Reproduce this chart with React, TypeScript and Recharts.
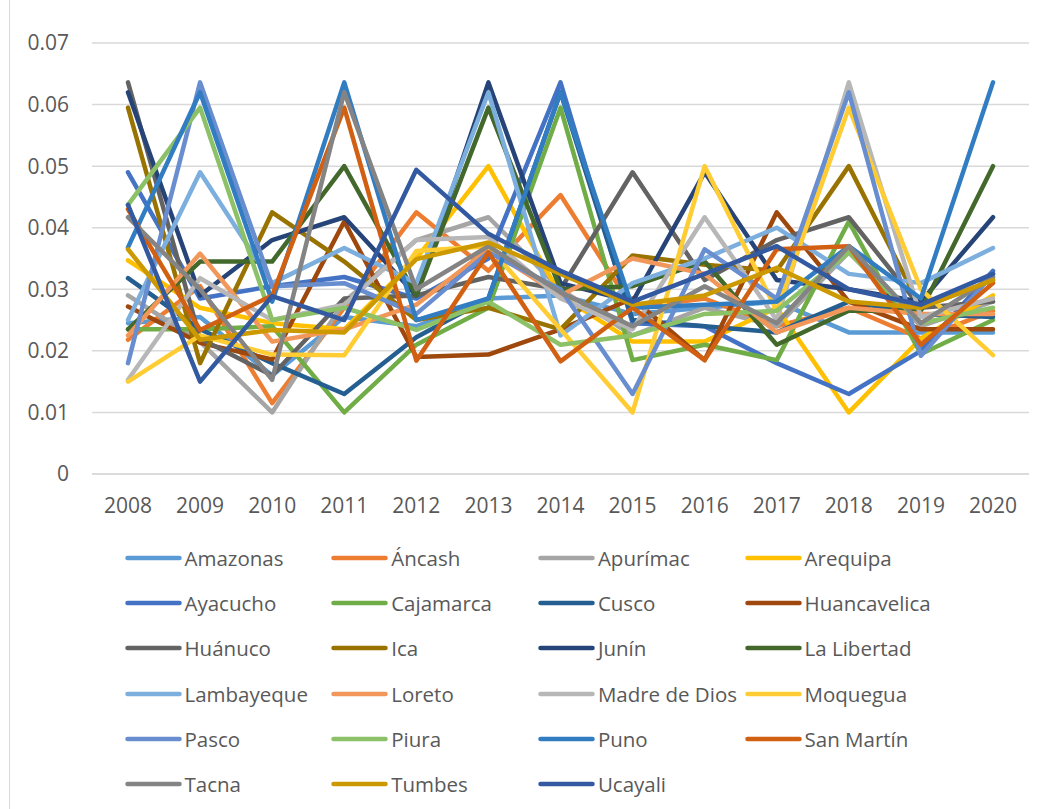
import React from 'react';
import { CartesianGrid, Legend, Line, LineChart, XAxis, YAxis } from 'recharts';

const years = ['2008', '2009', '2010', '2011', '2012', '2013', '2014', '2015', '2016', '2017', '2018', '2019', '2020'];
const yTicks = [0, 0.01, 0.02, 0.03, 0.04, 0.05, 0.06, 0.07];

const amazonas = [0.0245, 0.0255, 0.016, 0.0255, 0.024, 0.0285, 0.029, 0.026, 0.027, 0.028, 0.023, 0.023, 0.023];
const ancash = [0.0218, 0.0305, 0.0115, 0.027, 0.0425, 0.033, 0.0453, 0.027, 0.0285, 0.024, 0.027, 0.022, 0.0265];
const apurimac = [0.029, 0.0215, 0.01, 0.028, 0.038, 0.0417, 0.03, 0.0225, 0.027, 0.024, 0.036, 0.024, 0.028];
const arequipa = [0.0347, 0.027, 0.0245, 0.0235, 0.035, 0.05, 0.029, 0.0215, 0.0215, 0.027, 0.01, 0.022, 0.029];
const ayacucho = [0.049, 0.0285, 0.0305, 0.032, 0.0285, 0.035, 0.0636, 0.0245, 0.024, 0.018, 0.013, 0.02, 0.033];
const cajamarca = [0.0235, 0.0235, 0.024, 0.01, 0.021, 0.027, 0.0595, 0.0185, 0.021, 0.0185, 0.041, 0.0195, 0.025];
const cusco = [0.0318, 0.0235, 0.018, 0.013, 0.0222, 0.0285, 0.062, 0.025, 0.024, 0.023, 0.028, 0.026, 0.0255];
const huancavelica = [0.0272, 0.0213, 0.0186, 0.041, 0.019, 0.0194, 0.0235, 0.0285, 0.0185, 0.0425, 0.028, 0.0235, 0.0235];
const huanuco = [0.0636, 0.022, 0.016, 0.0285, 0.029, 0.032, 0.03, 0.049, 0.0315, 0.038, 0.0417, 0.027, 0.028];
const ica = [0.0595, 0.018, 0.0425, 0.0345, 0.025, 0.027, 0.0235, 0.0355, 0.034, 0.033, 0.05, 0.027, 0.0315];
const junin = [0.062, 0.029, 0.038, 0.0417, 0.029, 0.0636, 0.031, 0.028, 0.049, 0.0315, 0.03, 0.028, 0.0417];
const laLibertad = [0.0235, 0.0345, 0.0345, 0.05, 0.029, 0.0595, 0.03, 0.0305, 0.0345, 0.021, 0.0265, 0.0265, 0.05];
const lambayeque = [0.025, 0.049, 0.031, 0.0367, 0.031, 0.062, 0.0225, 0.031, 0.035, 0.04, 0.0325, 0.031, 0.0367];
const loreto = [0.0225, 0.0358, 0.0215, 0.0235, 0.0275, 0.0365, 0.029, 0.035, 0.0325, 0.023, 0.027, 0.026, 0.026];
const madreDeDios = [0.0153, 0.0318, 0.025, 0.0275, 0.038, 0.0385, 0.0285, 0.0235, 0.0417, 0.025, 0.0636, 0.0255, 0.0285];
const moquegua = [0.015, 0.0225, 0.0194, 0.0193, 0.0362, 0.037, 0.0235, 0.01, 0.05, 0.0265, 0.0595, 0.03, 0.0193];
const pasco = [0.018, 0.0636, 0.0305, 0.031, 0.026, 0.036, 0.03, 0.013, 0.0365, 0.0285, 0.062, 0.0192, 0.0325];
const piura = [0.0437, 0.0595, 0.025, 0.027, 0.0234, 0.028, 0.021, 0.0225, 0.026, 0.0265, 0.036, 0.0245, 0.027];
const puno = [0.0368, 0.062, 0.028, 0.0636, 0.025, 0.0285, 0.062, 0.027, 0.0275, 0.028, 0.037, 0.0285, 0.0636];
const sanMartin = [0.043, 0.0234, 0.029, 0.0595, 0.0184, 0.036, 0.0183, 0.027, 0.0185, 0.0365, 0.037, 0.021, 0.031];
const tacna = [0.0417, 0.03, 0.0153, 0.062, 0.03, 0.037, 0.0295, 0.024, 0.0305, 0.0245, 0.037, 0.0245, 0.032];
const tumbes = [0.0365, 0.0218, 0.0234, 0.023, 0.0349, 0.0376, 0.0325, 0.0275, 0.029, 0.0335, 0.028, 0.027, 0.0315];
const ucayali = [0.0437, 0.015, 0.0289, 0.025, 0.0494, 0.039, 0.033, 0.028, 0.0325, 0.037, 0.03, 0.0275, 0.0325];

const series = [
  { name: 'Amazonas', values: amazonas, color: '#5B9BD5' },
  { name: 'Áncash', values: ancash, color: '#ED7D31' },
  { name: 'Apurímac', values: apurimac, color: '#A5A5A5' },
  { name: 'Arequipa', values: arequipa, color: '#FFC000' },
  { name: 'Ayacucho', values: ayacucho, color: '#4472C4' },
  { name: 'Cajamarca', values: cajamarca, color: '#70AD47' },
  { name: 'Cusco', values: cusco, color: '#255E91' },
  { name: 'Huancavelica', values: huancavelica, color: '#9E480E' },
  { name: 'Huánuco', values: huanuco, color: '#636363' },
  { name: 'Ica', values: ica, color: '#997300' },
  { name: 'Junín', values: junin, color: '#264478' },
  { name: 'La Libertad', values: laLibertad, color: '#43682B' },
  { name: 'Lambayeque', values: lambayeque, color: '#7CAFDD' },
  { name: 'Loreto', values: loreto, color: '#F1975A' },
  { name: 'Madre de Dios', values: madreDeDios, color: '#B7B7B7' },
  { name: 'Moquegua', values: moquegua, color: '#FFCD33' },
  { name: 'Pasco', values: pasco, color: '#698ED0' },
  { name: 'Piura', values: piura, color: '#8CC168' },
  { name: 'Puno', values: puno, color: '#327DC2' },
  { name: 'San Martín', values: sanMartin, color: '#D26012' },
  { name: 'Tacna', values: tacna, color: '#848484' },
  { name: 'Tumbes', values: tumbes, color: '#CC9A00' },
  { name: 'Ucayali', values: ucayali, color: '#335AA1' },
];

const seriesNames = series.map((s) => s.name);

const data = years.map((year, i) => {
  const row: any = { year };
  series.forEach((s) => {
    row[s.name] = s.values[i];
  });
  return row;
});

const textColor = '#595959';

// keep the legend in the same order as the series (recharts sorts by name otherwise)
const renderLegend = (props: any) => {
  const payload = [...(props.payload || [])].sort(
    (a: any, b: any) => seriesNames.indexOf(a.value) - seriesNames.indexOf(b.value)
  );
  return (
    <div style={{ display: 'flex', flexWrap: 'wrap', width: 827 }}>
      {payload.map((entry: any) => (
        <div
          key={entry.value}
          style={{ width: 206.7, height: 45.2, display: 'flex', alignItems: 'center' }}
        >
          <svg width={57} height={8} style={{ flexShrink: 0 }}>
            <line x1={2.5} y1={4} x2={54.5} y2={4} stroke={entry.color} strokeWidth={4.5} strokeLinecap='round' />
          </svg>
          <span style={{ marginLeft: 3, fontSize: 20.5, color: textColor, whiteSpace: 'nowrap' }}>{entry.value}</span>
        </div>
      ))}
    </div>
  );
};

const App: React.FC = () => {
  return (
    <div
      style={{
        position: 'fixed',
        left: 0,
        top: 0,
        width: 1043,
        height: 809,
        background: '#fff',
        fontFamily: '"Open Sans", sans-serif',
      }}
    >
      <div style={{ position: 'absolute', left: 9, top: 0, bottom: 0, borderLeft: '1px solid #d9d9d9' }} />
      <LineChart
        width={1043}
        height={809}
        data={data}
        margin={{ top: 43, right: 14, left: 32, bottom: 305 }}
      >
        <CartesianGrid vertical={false} stroke='#d9d9d9' strokeWidth={1.5} />
        <XAxis
          dataKey='year'
          padding={{ left: 36, right: 36 }}
          axisLine={{ stroke: '#d9d9d9', strokeWidth: 1.5 }}
          tickLine={false}
          tickSize={0}
          tickMargin={24}
          height={30}
          tick={{ fill: textColor, fontSize: 21 }}
        />
        <YAxis
          domain={[0, 0.07]}
          ticks={yTicks}
          width={60}
          axisLine={false}
          tickLine={false}
          tickSize={0}
          tickMargin={23}
          tick={{ fill: textColor, fontSize: 21 }}
          tickFormatter={(v: number) => (v === 0 ? '0' : v.toFixed(2))}
        />
        {series.map((s) => (
          <Line
            key={s.name}
            type='linear'
            dataKey={s.name}
            stroke={s.color}
            strokeWidth={4.5}
            strokeLinejoin='round'
            strokeLinecap='round'
            dot={false}
            activeDot={false}
            isAnimationActive={false}
          />
        ))}
        <Legend
          layout='horizontal'
          verticalAlign='middle'
          align='center'
          content={renderLegend}
          wrapperStyle={{ position: 'absolute', top: 535.5, left: 124.5, width: 830 }}
        />
      </LineChart>
    </div>
  );
};

export default App;
